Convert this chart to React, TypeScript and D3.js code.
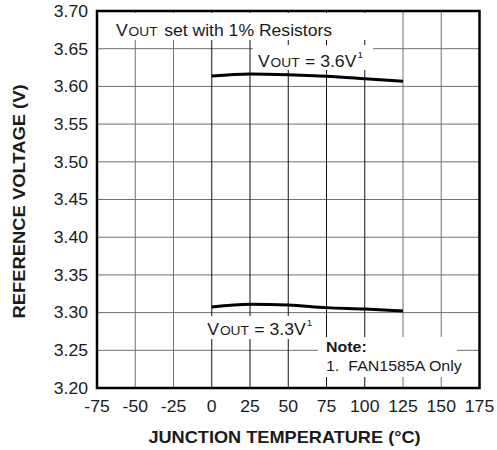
import React from 'react';
import * as d3 from 'd3';

const temps = [0, 25, 50, 75, 100, 125];
const vout36 = [3.6138, 3.6165, 3.6155, 3.6134, 3.6102, 3.6068];
const vout33 = [3.3075, 3.3111, 3.3101, 3.3066, 3.3048, 3.3022];
const xTicks = [-75, -50, -25, 0, 25, 50, 75, 100, 125, 150, 175];
const yTicks = [3.2, 3.25, 3.3, 3.35, 3.4, 3.45, 3.5, 3.55, 3.6, 3.65, 3.7];
const darkGridTemps = [0, 25, 50, 75, 100];

const W = 497;
const H = 450;
const FONT = '"Liberation Sans", Arial, Helvetica, sans-serif';
const INK = '#1a1a1a';

export default function App() {
  const x = d3.scaleLinear().domain([-75, 175]).range([97, 479.5]);
  const y = d3.scaleLinear().domain([3.2, 3.7]).range([388, 11]);
  const line = d3
    .line<[number, number]>()
    .x((d) => x(d[0]))
    .y((d) => y(d[1]))
    .curve(d3.curveMonotoneX);
  const d36 = line(temps.map((t, i) => [t, vout36[i]] as [number, number])) || '';
  const d33 = line(temps.map((t, i) => [t, vout33[i]] as [number, number])) || '';
  const sx = 1.1;

  return (
    <svg
      width={W}
      height={H}
      style={{ position: 'absolute', left: 0, top: 0, background: '#fff' }}
      fontFamily={FONT}
    >
      <rect x={0} y={0} width={W} height={H} fill="#fff" />
      {/* grid */}
      {yTicks.map((v) => (
        <line key={'h' + v} x1={x(-75)} x2={x(175)} y1={y(v)} y2={y(v)} stroke="#707070" strokeWidth={1} />
      ))}
      {xTicks.map((t) => (
        <line
          key={'v' + t}
          x1={x(t)}
          x2={x(t)}
          y1={y(3.7)}
          y2={y(3.2)}
          stroke={darkGridTemps.includes(t) ? '#111' : '#707070'}
          strokeWidth={1}
        />
      ))}
      {/* label backgrounds */}
      <rect x={106} y={13} width={264} height={27} fill="#fff" />
      <rect x={253} y={45} width={120} height={25} fill="#fff" />
      <rect x={204} y={316} width={114} height={23} fill="#fff" />
      <rect x={318} y={337} width={139} height={40} fill="#fff" />

      {/* annotations */}
      <text transform={`translate(116,35.5) scale(${sx},1)`} fill={INK} fontSize={16}>
        <tspan>V</tspan>
        <tspan fontSize={12.5} dx={0.8}>OUT</tspan>
        <tspan dx={1.5}> set with 1% Resistors</tspan>
      </text>
      <text transform={`translate(258,66.5) scale(${sx},1)`} fill={INK} fontSize={16}>
        <tspan>V</tspan>
        <tspan fontSize={12.5} dx={0.8}>OUT</tspan>
        <tspan dx={0.5}> = 3.6V</tspan>
        <tspan fontSize={9} dx={1} dy={-9}>1</tspan>
      </text>
      <text transform={`translate(207.3,335) scale(${sx},1)`} fill={INK} fontSize={16}>
        <tspan>V</tspan>
        <tspan fontSize={12.5} dx={0.8}>OUT</tspan>
        <tspan dx={0.5}> = 3.3V</tspan>
        <tspan fontSize={9} dx={1} dy={-9}>1</tspan>
      </text>
      <text transform={`translate(326,351.5) scale(${sx},1)`} fill={INK} fontSize={14.5} fontWeight="bold">
        Note:
      </text>
      <text transform={`translate(326,370.5) scale(${sx},1)`} fill={INK} fontSize={14.5}>
        1.
      </text>
      <text transform={`translate(348.3,370.5) scale(${sx},1)`} fill={INK} fontSize={14.5}>
        FAN1585A Only
      </text>

      {/* curves */}
      <path d={d36} fill="none" stroke="#000" strokeWidth={3} />
      <path d={d33} fill="none" stroke="#000" strokeWidth={3} />

      {/* frame */}
      <rect
        x={x(-75)}
        y={y(3.7)}
        width={x(175) - x(-75)}
        height={y(3.2) - y(3.7)}
        fill="none"
        stroke="#000"
        strokeWidth={2.5}
      />

      {/* y tick labels */}
      {yTicks.map((v) => (
        <text
          key={'yl' + v}
          transform={`translate(88,${y(v) + 5.8}) scale(${sx},1)`}
          textAnchor="end"
          fontSize={16}
          fill={INK}
        >
          {v.toFixed(2)}
        </text>
      ))}
      {/* x tick labels */}
      {xTicks.map((t) => (
        <text
          key={'xl' + t}
          transform={`translate(${x(t)},411.7) scale(${sx},1)`}
          textAnchor="middle"
          fontSize={16}
          fill={INK}
        >
          {String(t)}
        </text>
      ))}
      {/* axis titles */}
      <text
        transform={`translate(284.5,443.3) scale(1.135,1)`}
        textAnchor="middle"
        fontSize={16}
        fontWeight="bold"
        fill={INK}
      >
        JUNCTION TEMPERATURE (°C)
      </text>
      <text
        transform={`translate(25,201.5) rotate(-90) scale(1.149,1)`}
        textAnchor="middle"
        fontSize={16}
        fontWeight="bold"
        fill={INK}
      >
        REFERENCE VOLTAGE (V)
      </text>
    </svg>
  );
}
